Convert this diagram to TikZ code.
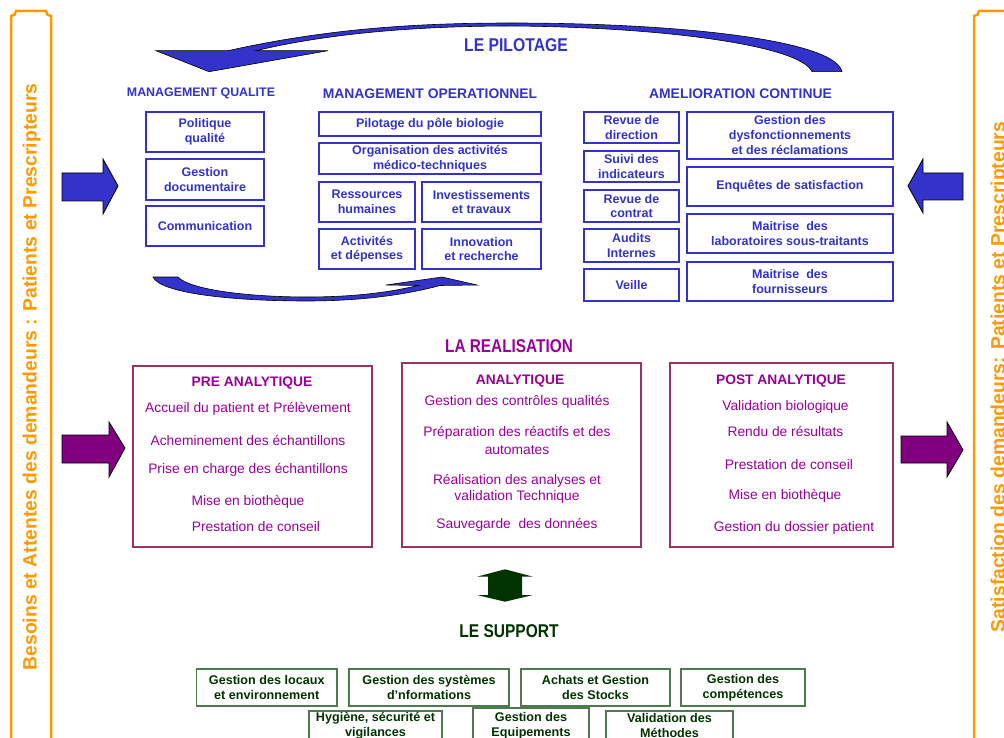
\documentclass[tikz,border=0pt]{standalone}
\usepackage{fontspec}
\setmainfont{Liberation Sans}
\usepackage{graphicx}
\definecolor{pblue}{HTML}{3333CC}
\definecolor{ppurple}{HTML}{990099}
\definecolor{pmaroon}{HTML}{993366}
\definecolor{parrow}{HTML}{800080}
\definecolor{porange}{HTML}{FF9900}
\definecolor{pgreen}{HTML}{003300}
\definecolor{pgreenline}{HTML}{4F7A4F}
\tikzset{
  qbox/.style={draw=pblue, line width=1.3pt, text=pblue, font=\bfseries\fontsize{12.5}{14.5}\selectfont, align=center, inner sep=0pt, rectangle},
  qhead/.style={text=pblue, font=\bfseries\fontsize{13.9}{16}\selectfont, anchor=base, inner sep=0pt},
  rbox/.style={draw=pmaroon, line width=2.5pt, inner sep=0pt, rectangle},
  rhead/.style={text=ppurple, font=\bfseries\fontsize{13.8}{17}\selectfont, anchor=base, inner sep=0pt},
  rline/.style={text=ppurple, font=\fontsize{13.8}{17}\selectfont, text height=10pt, text depth=3pt, inner sep=0pt},
  sbox/.style={draw=pgreenline, line width=1.3pt, text=pgreen, font=\bfseries\fontsize{12.6}{15}\selectfont, align=center, inner sep=0pt, rectangle},
  sectitle/.style={font=\bfseries\fontsize{18.5}{20}\selectfont, anchor=base, inner sep=0pt},
  sidetext/.style={text=porange, font=\bfseries\fontsize{19.35}{22}\selectfont, rotate=90, anchor=base, inner sep=0pt},
  blockarrow/.style={draw=black, line width=0.8pt},
  sidebar/.style={draw=porange, line width=2.5pt}
}
\begin{document}
\begin{tikzpicture}[x=1pt,y=-1pt]
\useasboundingbox (0,0) rectangle (1004,738);
\clip (0,0) rectangle (1004,738);
\fill[white] (0,0) rectangle (1004,738);

% side bars
\draw[sidebar] (11,760) -- (11,16) .. controls (14,16) and (16,14) .. (16,11) -- (46,11) .. controls (46,14) and (48,16) .. (51,16) -- (51,760);
\draw[sidebar] (974,760) -- (974,16) .. controls (977,16) and (979,14) .. (979,11) -- (1020,11);
\node[sidetext] (lt) at (36.5,377) {Besoins et Attentes des demandeurs : Patients et Prescripteurs};
\node[sidetext] (rt) at (1004.5,377) {Satisfaction des demandeurs: Patients et Prescripteurs};

% block arrows
\filldraw[blockarrow, fill=pblue] (62,173) -- (103,173) -- (103,159) -- (118,186) -- (103,214) -- (103,201) -- (62,201) -- cycle;
\filldraw[blockarrow, fill=pblue] (963,173) -- (923,173) -- (923,159) -- (908,186) -- (923,213) -- (923,200) -- (963,200) -- cycle;
\filldraw[blockarrow, fill=parrow] (62,435) -- (109,435) -- (109,422) -- (125,448) -- (109,477) -- (109,463) -- (62,463) -- cycle;
\filldraw[blockarrow, fill=parrow] (901,436) -- (947,436) -- (947,422) -- (963,450) -- (947,477) -- (947,463) -- (901,463) -- cycle;

% curved arrows
\filldraw[draw=black, line width=0.6pt, fill=pblue] (156,50.7) -- (228,50.7) .. controls (330,28) and (420,23) .. (512,23) .. controls (680,23) and (835,40) .. (842,71.7) -- (812,71.7) .. controls (800,45) and (660,27) .. (512,26) .. controls (420,26) and (330,33) .. (256,50.7) -- (328,50.7) -- (209,71.7) -- cycle;
\filldraw[draw=black, line width=0.6pt, fill=pblue] (153,277) -- (178,277) .. controls (190,290) and (250,297) .. (307,297) .. controls (360,297) and (395,291) .. (418,285.5) -- (386,285) -- (442,277) -- (477,285) -- (440,285.5) .. controls (405,295) and (360,301) .. (307,301) .. controls (230,301) and (160,293) .. (153,277) -- cycle;

% titles
\node[sectitle, text=pblue] (pilot) at (516,52) {\scalebox{0.85}[1]{LE PILOTAGE}};
\node[sectitle, text=ppurple] (real) at (509,352) {\scalebox{0.83}[1]{LA REALISATION}};
\node[sectitle, text=pgreen] (supp) at (509,637) {\scalebox{0.84}[1]{LE SUPPORT}};

% management qualite
\node[qhead, font=\bfseries\fontsize{12.4}{14}\selectfont] (hq) at (201,97) {MANAGEMENT QUALITE};
\node[qbox, minimum width=118pt, minimum height=40pt] (q1) at (205,132) {Politique\\qualité};
\node[qbox, minimum width=118pt, minimum height=41pt] (q2) at (205,179.5) {Gestion\\documentaire};
\node[qbox, minimum width=118pt, minimum height=40pt] (q3) at (205,226) {Communication};

% management operationnel
\node[qhead] (ho) at (430,98.5) {MANAGEMENT OPERATIONNEL};
\node[qbox, minimum width=222pt, minimum height=24pt] (o1) at (430,124) {Pilotage du pôle biologie};
\node[qbox, minimum width=222pt, minimum height=31pt] (o2) at (430,158.5) {Organisation des activités\\médico-techniques};
\node[qbox, minimum width=96pt, minimum height=40pt] (o3) at (367,202) {Ressources\\humaines};
\node[qbox, minimum width=119pt, minimum height=40pt] (o4) at (481.5,202) {Investissements\\et travaux};
\node[qbox, minimum width=96pt, minimum height=40pt] (o5) at (367,249) {Activités\\et dépenses};
\node[qbox, minimum width=119pt, minimum height=40pt] (o6) at (481.5,249) {Innovation\\et recherche};

% amelioration continue
\node[qhead] (ha) at (740.5,98.5) {AMELIORATION CONTINUE};
\node[qbox, minimum width=95pt, minimum height=31pt] (a1) at (631.5,127.5) {Revue de\\direction};
\node[qbox, minimum width=95pt, minimum height=31pt] (a2) at (631.5,166.5) {Suivi des\\indicateurs};
\node[qbox, minimum width=95pt, minimum height=32pt] (a3) at (631.5,206) {Revue de\\contrat};
\node[qbox, minimum width=95pt, minimum height=33pt] (a4) at (631.5,245.5) {Audits\\Internes};
\node[qbox, minimum width=95pt, minimum height=32pt] (a5) at (631.5,285) {Veille};
\node[qbox, minimum width=206pt, minimum height=47pt, font=\bfseries\fontsize{12.5}{15}\selectfont] (b1) at (790,135.5) {Gestion des\\dysfonctionnements\\et des réclamations};
\node[qbox, minimum width=206pt, minimum height=39pt] (b2) at (790,186.5) {Enquêtes de satisfaction};
\node[qbox, minimum width=206pt, minimum height=39pt] (b3) at (790,233.5) {Maitrise\ \ des\\laboratoires sous-traitants};
\node[qbox, minimum width=206pt, minimum height=39pt] (b4) at (790,281.5) {Maitrise\ \ des\\fournisseurs};

% realisation
\node[rbox, minimum width=239pt, minimum height=181pt] (pre) at (252.5,456.5) {};
\node[rbox, minimum width=239pt, minimum height=184pt] (ana) at (521.5,455) {};
\node[rbox, minimum width=223pt, minimum height=184pt] (post) at (781.5,455) {};

\node[rhead] (preh) at (252,386.5) {PRE ANALYTIQUE};
\node[rline] (p1) at (248,409) {Accueil du patient et Prélèvement};
\node[rline] (p2) at (248,442) {Acheminement des échantillons};
\node[rline] (p3) at (248,470) {Prise en charge des échantillons};
\node[rline] (p4) at (248,502) {Mise en biothèque};
\node[rline] (p5) at (256,528) {Prestation de conseil};

\node[rhead] (anah) at (520,384) {ANALYTIQUE};
\node[rline] (n1) at (517,402) {Gestion des contrôles qualités};
\node[rline] (n2) at (517,433) {Préparation des réactifs et des};
\node[rline] (n2b) at (517,451) {automates};
\node[rline] (n3) at (517,481) {Réalisation des analyses et};
\node[rline] (n3b) at (517,497) {validation Technique};
\node[rline] (n4) at (517,525) {Sauvegarde\ \ des données};

\node[rhead] (posth) at (781,384) {POST ANALYTIQUE};
\node[rline] (t1) at (785.5,407) {Validation biologique};
\node[rline] (t2) at (785.5,433) {Rendu de résultats};
\node[rline] (t3) at (789,466) {Prestation de conseil};
\node[rline] (t4) at (785,496) {Mise en biothèque};
\node[rline] (t5) at (794,528) {Gestion du dossier patient};

% double arrow
\fill[pgreen] (505,569.3) -- (533,576.7) -- (522,576.7) -- (522,595) -- (533,595) -- (505,601.7) -- (477,595) -- (488,595) -- (488,576.7) -- (477,576.7) -- cycle;

% support
\node[sbox, minimum width=140.5pt, minimum height=37pt] (s1) at (266.75,687.5) {Gestion des locaux\\et environnement};
\node[sbox, minimum width=160pt, minimum height=37pt] (s2) at (429,687.5) {Gestion des systèmes\\d’nformations};
\node[sbox, minimum width=149pt, minimum height=37pt] (s3) at (595.5,687.5) {Achats et Gestion\\des Stocks};
\node[sbox, minimum width=124pt, minimum height=37pt] (s4) at (743,687.5) {Gestion des\\compétences};
\node[sbox, minimum width=133pt, minimum height=29pt] (s5) at (375.5,725.5) {Hygiène, sécurité et\\vigilances};
\node[sbox, minimum width=116pt, minimum height=35pt] (s6) at (531,725.5) {Gestion des\\Equipements};
\node[sbox, minimum width=127pt, minimum height=29pt] (s7) at (669.5,725.5) {Validation des\\Méthodes};
\end{tikzpicture}
\end{document}
